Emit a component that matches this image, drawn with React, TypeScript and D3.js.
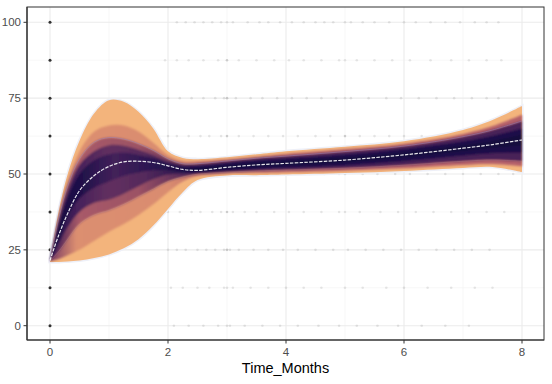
import React from 'react';
import * as d3 from 'd3';

const timeKnots = [0, 0.15, 0.3, 0.5, 0.75, 1, 1.25, 1.5, 1.75, 2, 2.25, 2.5, 3, 3.5, 4, 5, 6, 7, 7.5, 8];

const median = [21.5, 30, 37, 44.5, 49.5, 52.5, 54, 54.2, 53.8, 52.7, 51.5, 51.2, 52.2, 53, 53.5, 54.6, 56.3, 58.5, 59.7, 61.2];

const upper99 = [21.5, 38, 50, 61, 70, 74.3, 73.8, 70.5, 65, 57.5, 55.3, 54.9, 55.5, 56.5, 57.5, 59, 60.8, 64.5, 67.8, 72.4];
const lower99 = [21, 21, 21.2, 21.5, 22.3, 23.5, 25.5, 28.5, 33, 38.5, 44, 48, 49.5, 49.6, 49.8, 50.3, 51, 52, 52.3, 50.6];
const upper90 = [21.5, 36.5, 47.5, 57.5, 64, 66, 66, 64, 60.3, 56.3, 54.3, 54.2, 54.8, 55.7, 56.6, 58.2, 60, 63.2, 65.8, 69.5];
const lower90 = [21.3, 22, 23.2, 25, 28, 31, 33.5, 36.5, 40, 44, 47.5, 49.3, 50.2, 50.4, 50.6, 51.1, 51.9, 53, 53.3, 52.5];
const upper75 = [21.5, 35.5, 46, 55, 60.5, 62, 61.5, 60, 57.8, 55, 53.4, 53.4, 54.3, 55.2, 55.9, 57.4, 59.2, 62.3, 64.5, 67.5];
const lower75 = [21.4, 24.5, 28.5, 33.5, 36.5, 38, 40, 42.5, 45, 47.5, 49, 49.9, 50.6, 51, 51.3, 51.9, 52.9, 54.2, 54.6, 54.2];
const upper50 = [21.5, 34, 44, 53, 57.5, 59.5, 59.3, 58, 56.2, 54, 52.7, 52.6, 53.6, 54.5, 55.1, 56.4, 58.2, 60.8, 62.6, 65];
const lower50 = [21.5, 27, 32.5, 37.5, 40.5, 41.5, 43.5, 46, 48.3, 49.8, 50.2, 50.4, 51.1, 51.6, 52, 52.8, 54.2, 56, 56.8, 57];
const upper25 = [21.5, 32.5, 42, 50, 54.5, 56.5, 57, 56.3, 55.2, 53.3, 52, 51.9, 52.8, 53.7, 54.2, 55.4, 57.1, 59.5, 60.9, 63];
const lower25 = [21.5, 29, 36, 42, 45.5, 47.5, 49.3, 50.5, 51.2, 51.2, 50.9, 50.8, 51.7, 52.4, 52.9, 53.9, 55.5, 57.6, 58.6, 59.5];

// observed response levels
const scoreLevels = [0, 12.5, 25, 37.5, 50, 62.5, 75, 87.5, 100];

// follow-up visit times per response level
const visits0 = [2.1, 2.35, 2.6, 2.85, 3.0, 3.05, 3.3, 3.6, 3.9, 4.2, 4.55, 4.9, 5.2, 5.55, 5.9, 6.3, 6.7, 7.1];
const visits12 = [2.05, 2.25, 2.5, 2.7, 2.95, 3.0, 3.1, 3.4, 3.7, 4.0, 4.3, 4.6, 5.0, 5.3, 5.7, 6.0, 6.4, 6.8, 7.2, 7.5];
const visits25 = [2.0, 2.15, 2.3, 2.5, 2.65, 2.8, 2.95, 3.0, 3.0, 3.05, 3.2, 3.45, 3.7, 3.95, 4.2, 4.5, 4.8, 5.05, 5.35, 5.65, 5.95, 6.25, 6.55, 6.85, 7.15, 7.45];
const visits37 = [2.0, 2.2, 2.4, 2.55, 2.75, 2.9, 3.0, 3.0, 3.1, 3.3, 3.5, 3.8, 4.05, 4.3, 4.6, 4.9, 5.0, 5.25, 5.6, 5.9, 6.2, 6.5, 6.8, 7.1, 7.4, 7.7];
const visits50 = [2.6, 2.8, 3.0, 3.0, 3.15, 3.4, 3.65, 3.9, 4.1, 4.4, 4.65, 4.9, 5.0, 5.0, 5.3, 5.55, 5.85, 6.1, 6.4, 6.7, 7.0, 7.3, 7.6, 7.85];
const visits62 = [2.0, 2.15, 2.35, 2.55, 2.7, 2.9, 3.0, 3.0, 3.2, 3.45, 3.7, 3.95, 4.2, 4.5, 4.75, 5.0, 5.0, 5.25, 5.5, 5.75, 6.0, 6.3, 6.6];
const visits75 = [2.0, 2.2, 2.4, 2.6, 2.8, 2.95, 3.0, 3.0, 3.15, 3.4, 3.6, 3.85, 4.1, 4.35, 4.6, 4.85, 5.0, 5.1, 5.4, 5.7, 5.95, 6.25, 6.55, 6.85, 7.15, 7.4, 7.6];
const visits87 = [1.95, 2.15, 2.35, 2.6, 2.85, 3.0, 3.0, 3.2, 3.5, 3.8, 4.05, 4.3, 4.6, 4.9, 5.0, 5.2, 5.5, 5.8, 6.1, 6.45, 6.8, 7.1, 7.4, 7.65];
const visits100 = [2.15, 2.3, 2.45, 2.6, 2.75, 2.9, 3.0, 3.1, 3.35, 3.55, 3.7, 3.9, 4.1, 4.3, 4.5, 4.65, 4.8, 5.0, 5.1, 5.3, 5.5, 5.75, 6.0, 6.2, 6.45, 6.7, 6.95, 7.2, 7.4, 7.6];

const visitsByLevel = [visits0, visits12, visits25, visits37, visits50, visits62, visits75, visits87, visits100];

const xTicks = [0, 2, 4, 6, 8];
const xMinor = [1, 3, 5, 7];
const yTicks = [0, 25, 50, 75, 100];
const yMinor = [12.5, 37.5, 62.5, 87.5];

const W = 552;
const H = 384;
const panel = { left: 27, right: 544, top: 7, bottom: 340 };

// band colours shift along time: dense (narrow) spans go dark navy
const bandStyles = [
  { lo: lower99, hi: upper99, stops: [[0, '#f3b47c'], [8, '#f3b47c']] },
  { lo: lower90, hi: upper90, stops: [[0, '#7a3a63'], [0.45, '#dc8f70'], [2, '#d98c6f'], [2.8, '#b8646a'], [8, '#b4606a']] },
  { lo: lower75, hi: upper75, stops: [[0, '#3a1a55'], [0.5, '#a85a68'], [1.5, '#9c5265'], [2.4, '#4a2358'], [8, '#4a2358']] },
  { lo: lower50, hi: upper50, stops: [[0, '#1d0f47'], [0.45, '#45205a'], [1, '#62305f'], [1.6, '#552a5c'], [2.4, '#1e104a'], [8, '#1e104a']] },
  { lo: lower25, hi: upper25, stops: [[0, '#150b3d'], [0.5, '#1f1049'], [1.1, '#43215a'], [1.8, '#281450'], [2.4, '#140b3c'], [8, '#140b3c']] },
];

const App = () => {
  const x = d3.scaleLinear().domain([0, 8]).range([50, 522]);
  const y = d3.scaleLinear().domain([0, 100]).range([325.7, 22.3]);
  const curve = d3.curveCatmullRom.alpha(0.5);

  const area = (lo, hi) =>
    d3
      .area()
      .x((d, i) => x(timeKnots[i]))
      .y0((d, i) => y(lo[i]))
      .y1((d, i) => y(hi[i]))
      .curve(curve)(timeKnots);

  const line = (vals) =>
    d3
      .line()
      .x((d, i) => x(timeKnots[i]))
      .y((d, i) => y(vals[i]))
      .curve(curve)(timeKnots);

  const font = '"Liberation Sans", Arial, Helvetica, sans-serif';

  return (
    <svg width={W} height={H} style={{ position: 'absolute', left: 0, top: 0, background: '#fff' }}>
      <defs>
        {bandStyles.map((b, i) => (
          <linearGradient key={'g' + i} id={'bandGrad' + i} gradientUnits="userSpaceOnUse" x1={x(0)} x2={x(8)} y1={0} y2={0}>
            {b.stops.map(([t, c], j) => (
              <stop key={j} offset={t / 8} stopColor={c} />
            ))}
          </linearGradient>
        ))}
        <filter id="soft" x="-5%" y="-5%" width="110%" height="110%">
          <feGaussianBlur stdDeviation="0.9" />
        </filter>
      </defs>
      <rect x={panel.left} y={panel.top} width={panel.right - panel.left} height={panel.bottom - panel.top} fill="#fff" />
      {/* grid */}
      {xMinor.map((t) => (
        <line key={'xm' + t} x1={x(t)} x2={x(t)} y1={panel.top} y2={panel.bottom} stroke="#f2f2f2" strokeWidth={0.6} />
      ))}
      {yMinor.map((t) => (
        <line key={'ym' + t} x1={panel.left} x2={panel.right} y1={y(t)} y2={y(t)} stroke="#f2f2f2" strokeWidth={0.6} />
      ))}
      {xTicks.map((t) => (
        <line key={'xg' + t} x1={x(t)} x2={x(t)} y1={panel.top} y2={panel.bottom} stroke="#ebebeb" strokeWidth={1.1} />
      ))}
      {yTicks.map((t) => (
        <line key={'yg' + t} x1={panel.left} x2={panel.right} y1={y(t)} y2={y(t)} stroke="#ebebeb" strokeWidth={1.1} />
      ))}

      {/* observations */}
      {visitsByLevel.map((times, li) =>
        times.map((t, j) => (
          <circle key={'v' + li + '-' + j} cx={x(t)} cy={y(scoreLevels[li])} r={1.3} fill="#000" fillOpacity={0.09} />
        ))
      )}
      {scoreLevels.map((s) => (
        <circle key={'b' + s} cx={x(0)} cy={y(s)} r={1.5} fill="#111" fillOpacity={0.85} />
      ))}

      {/* fan */}
      <path d={area(lower99, upper99)} fill="none" stroke="#eef0f8" strokeWidth={3} />
      <path d={area(lower99, upper99)} fill="url(#bandGrad0)" />
      <g filter="url(#soft)">
        {bandStyles.slice(1).map((b, i) => (
          <path key={'band' + i} d={area(b.lo, b.hi)} fill={`url(#bandGrad${i + 1})`} />
        ))}
      </g>
      <path d={line(upper75)} fill="none" stroke="#9a88c0" strokeOpacity={0.5} strokeWidth={0.9} />
      <path d={line(lower75)} fill="none" stroke="#c99a9a" strokeOpacity={0.3} strokeWidth={0.8} />
      <path d={line(median)} fill="none" stroke="#ffffff" strokeOpacity={0.9} strokeWidth={1.2} strokeDasharray="3.5 1.3" />

      {/* panel border and axes */}
      <rect x={panel.left} y={panel.top} width={panel.right - panel.left} height={panel.bottom - panel.top} fill="none" stroke="#333" strokeWidth={1} />
      <line x1={panel.left} x2={panel.right} y1={panel.bottom} y2={panel.bottom} stroke="#333" strokeWidth={1.2} />
      <line x1={panel.left} x2={panel.left} y1={panel.top} y2={panel.bottom} stroke="#333" strokeWidth={1.2} />

      {xTicks.map((t) => (
        <g key={'xt' + t}>
          <line x1={x(t)} x2={x(t)} y1={panel.bottom} y2={panel.bottom + 3.5} stroke="#333" strokeWidth={1} />
          <text x={x(t)} y={356} textAnchor="middle" fontFamily={font} fontSize={11.5} fill="#4d4d4d">
            {t}
          </text>
        </g>
      ))}
      {yTicks.map((t) => (
        <g key={'yt' + t}>
          <line x1={panel.left - 3.5} x2={panel.left} y1={y(t)} y2={y(t)} stroke="#333" strokeWidth={1} />
          <text x={21} y={y(t)} dy="0.35em" textAnchor="end" fontFamily={font} fontSize={11.5} fill="#4d4d4d">
            {t}
          </text>
        </g>
      ))}
      <text x={(panel.left + panel.right) / 2} y={373} textAnchor="middle" fontFamily={font} fontSize={14.5} fill="#000">
        Time_Months
      </text>
    </svg>
  );
};

export default App;
